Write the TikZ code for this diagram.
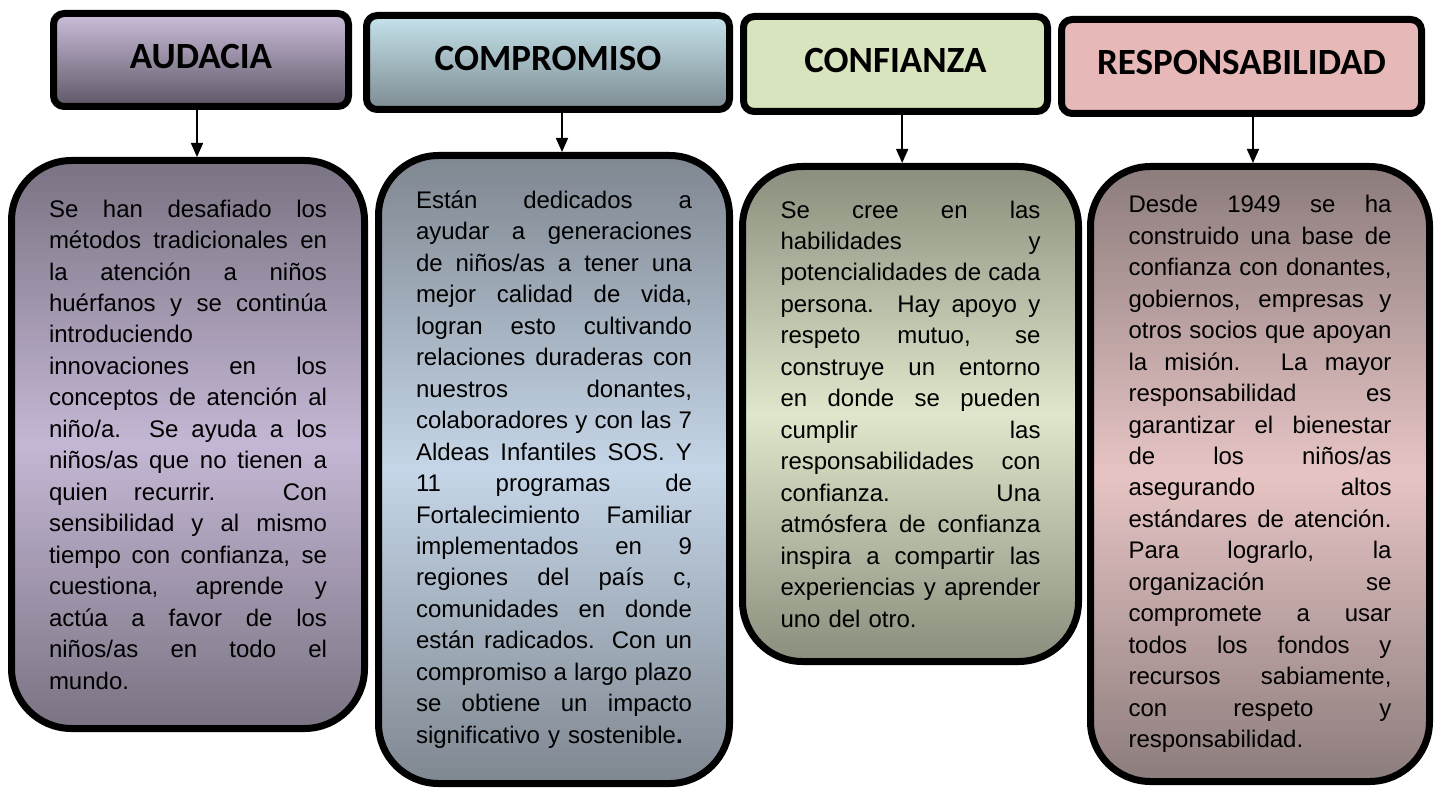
\documentclass[tikz,border=0pt]{standalone}
\usepackage{fontspec}
\setmainfont{Liberation Sans}
\newfontfamily\titulofont{Carlito}
\usepackage{xcolor}
\usepackage{tikz}
\usetikzlibrary{arrows.meta}
\definecolor{audT}{RGB}{203,190,218}
\definecolor{audB}{RGB}{94,87,103}
\definecolor{comT}{RGB}{198,227,236}
\definecolor{comB}{RGB}{124,139,145}
\definecolor{conF}{RGB}{215,228,189}
\definecolor{resF}{RGB}{230,184,183}
\definecolor{audO}{RGB}{122,115,130}
\definecolor{audM}{RGB}{196,183,213}
\definecolor{comO}{RGB}{127,135,144}
\definecolor{comM}{RGB}{197,214,232}
\definecolor{conO}{RGB}{138,142,125}
\definecolor{conM}{RGB}{222,231,203}
\definecolor{resO}{RGB}{140,124,124}
\definecolor{resM}{RGB}{231,196,196}
\newlength{\anchot}
\newcommand{\jl}[1]{{\spaceskip=0pt\xspaceskip=0pt\makebox[\anchot][s]{#1}}}
\tikzset{
    titulo/.style = {draw, line width=5.25pt, rounded corners=8pt, inner sep=0pt,
        font=\titulofont\bfseries\fontsize{27.75}{33}\selectfont, text depth=5.5pt},
    cuadro/.style = {draw, line width=5.25pt, rounded corners=45pt, inner sep=0pt,
        align=left, font=\fontsize{18}{23.6}\selectfont},
    flecha/.style = {line width=1.2pt, ->},
    >={Triangle[length=10.5pt, width=9pt]}
}

\begin{document}
\begin{tikzpicture}[x=0.75pt, y=-0.75pt]
    \useasboundingbox (0,0) rectangle (1435,788);
    % titulos
    \node (hA) [titulo, top color=audT, bottom color=audB,
        minimum width=221.25pt, minimum height=69.75pt] at (201,60) {AUDACIA};
    \node (hB) [titulo, top color=comT, bottom color=comB,
        minimum width=272.25pt, minimum height=70.5pt] at (548,62.5) {COMPROMISO};
    \node (hC) [titulo, fill=conF,
        minimum width=228pt, minimum height=71.25pt] at (895.5,64) {CONFIANZA};
    \node (hD) [titulo, fill=resF,
        minimum width=270pt, minimum height=70.5pt] at (1241.5,66.5) {RESPONSABILIDAD};
    % cuadros
    \setlength{\anchot}{208.5pt}
    \node (bA) [cuadro, text width=208.5pt, minimum width=264.75pt, minimum height=426pt,
        top color=audO, bottom color=audO, middle color=audM] at (188,444.5) {%
        \jl{Se han desafiado los}\\
        \jl{métodos tradicionales en}\\
        \jl{la atención a niños}\\
        \jl{huérfanos y se continúa}\\
        introduciendo\\
        \jl{innovaciones en los}\\
        \jl{conceptos de atención al}\\
        \jl{niño/a. Se ayuda a los}\\
        \jl{niños/as que no tienen a}\\
        \jl{quien recurrir. Con}\\
        \jl{sensibilidad y al mismo}\\
        \jl{tiempo con confianza, se}\\
        \jl{cuestiona, aprende y}\\
        \jl{actúa a favor de los}\\
        \jl{niños/as en todo el}\\
        mundo.};
    \setlength{\anchot}{207pt}
    \node (bB) [cuadro, text width=207pt, minimum width=263.25pt, minimum height=471pt,
        top color=comO, bottom color=comO, middle color=comM] at (554,469.5) {%
        \jl{Están dedicados a}\\
        \jl{ayudar a generaciones}\\
        \jl{de niños/as a tener una}\\
        \jl{mejor calidad de vida,}\\
        \jl{logran esto cultivando}\\
        \jl{relaciones duraderas con}\\
        \jl{nuestros donantes,}\\
        \jl{colaboradores y con las 7}\\
        \jl{Aldeas Infantiles SOS. Y}\\
        \jl{11 programas de}\\
        \jl{Fortalecimiento Familiar}\\
        \jl{implementados en 9}\\
        \jl{regiones del país c,}\\
        \jl{comunidades en donde}\\
        \jl{están radicados. Con un}\\
        \jl{compromiso a largo plazo}\\
        \jl{se obtiene un impacto}\\
        significativo y sostenible{\bfseries .}};
    \setlength{\anchot}{195pt}
    \node (bC) [cuadro, text width=195pt, minimum width=252pt, minimum height=371.25pt,
        top color=conO, bottom color=conO, middle color=conM] at (910.5,414) {%
        \jl{Se cree en las}\\
        \jl{habilidades y}\\
        \jl{potencialidades de cada}\\
        \jl{persona. Hay apoyo y}\\
        \jl{respeto mutuo, se}\\
        \jl{construye un entorno}\\
        \jl{en donde se pueden}\\
        \jl{cumplir las}\\
        \jl{responsabilidades con}\\
        \jl{confianza. Una}\\
        \jl{atmósfera de confianza}\\
        \jl{inspira a compartir las}\\
        \jl{experiencias y aprender}\\
        uno del otro.};
    \setlength{\anchot}{197.25pt}
    \node (bD) [cuadro, text width=197.25pt, minimum width=254.25pt, minimum height=461.25pt,
        top color=resO, bottom color=resO, middle color=resM] at (1260,474) {%
        \jl{Desde 1949 se ha}\\
        \jl{construido una base de}\\
        \jl{confianza con donantes,}\\
        \jl{gobiernos, empresas y}\\
        \jl{otros socios que apoyan}\\
        \jl{la misión. La mayor}\\
        \jl{responsabilidad es}\\
        \jl{garantizar el bienestar}\\
        \jl{de los niños/as}\\
        \jl{asegurando altos}\\
        \jl{estándares de atención.}\\
        \jl{Para lograrlo, la}\\
        \jl{organización se}\\
        \jl{compromete a usar}\\
        \jl{todos los fondos y}\\
        \jl{recursos sabiamente,}\\
        \jl{con respeto y}\\
        responsabilidad.};
    % flechas
    \draw[flecha] ([xshift=-3pt]hA.south) -- ([xshift=-3pt]hA.south |- bA.north);
    \draw[flecha] ([xshift=10.5pt]hB.south) -- ([xshift=10.5pt]hB.south |- bB.north);
    \draw[flecha] ([xshift=5pt]hC.south) -- ([xshift=5pt]hC.south |- bC.north);
    \draw[flecha] ([xshift=8.6pt]hD.south) -- ([xshift=8.6pt]hD.south |- bD.north);
\end{tikzpicture}
\end{document}
